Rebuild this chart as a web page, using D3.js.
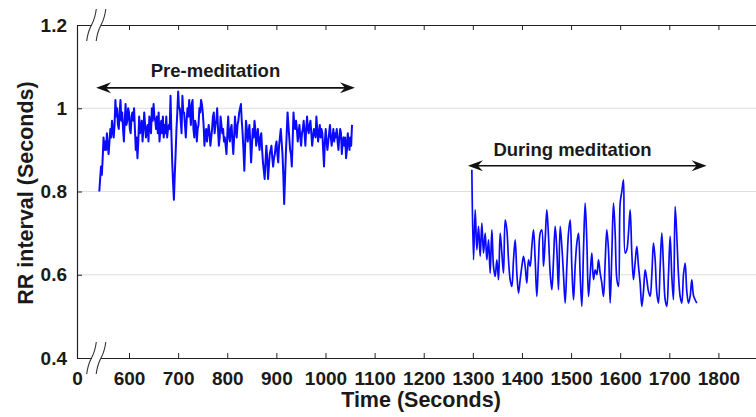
<!DOCTYPE html>
<html>
<head>
<meta charset="utf-8">
<script src="https://cdn.jsdelivr.net/npm/d3@7"></script>
<style>
  html, body { margin: 0; padding: 0; background: #fff; }
  svg { display: block; }
  text { font-family: "Liberation Sans", Arial, Helvetica, sans-serif; font-weight: bold; fill: #1a1a1a; }
</style>
</head>
<body>
<svg id="chart" width="756" height="417"></svg>
<script>
// ---------------- DATA ----------------
const xTickValues = [600, 700, 800, 900, 1000, 1100, 1200, 1300, 1400, 1500, 1600, 1700, 1800];
const xBreakLabel = "0";
const yTickValues = [0.4, 0.6, 0.8, 1, 1.2];
const yTickLabels = ["0.4", "0.6", "0.8", "1", "1.2"];
const xTitle = "Time (Seconds)";
const yTitle = "RR interval (Seconds)";
const preLabel = "Pre-meditation";
const duringLabel = "During meditation";

// Pre-meditation segment: start / end time (s) and RR values (s)
const preStart = 539.5, preEnd = 1054;
const preValues = [
  0.80, 0.83, 0.86, 0.84, 0.88, 0.93, 0.90, 0.92, 0.90, 0.94, 0.91, 0.89, 0.92, 0.95, 0.93, 0.97, 0.95, 0.93, 0.96, 1.02,
  0.98, 1.00, 0.96, 0.95, 0.99, 1.02, 0.97, 0.99, 0.95, 0.92, 0.97, 1.01, 0.96, 0.97, 1.00, 0.99, 0.95, 0.94, 0.98, 0.99,
  0.97, 1.00, 0.95, 0.90, 0.93, 0.88, 0.92, 0.98, 0.94, 0.95, 0.97, 0.92, 0.95, 0.99, 0.96, 0.93, 0.95, 0.96, 0.92, 0.98,
  0.96, 0.94, 1.00, 0.97, 1.01, 0.98, 0.97, 0.95, 0.98, 0.94, 0.99, 0.92, 0.95, 0.97, 0.94, 0.98, 0.93, 0.96, 0.94, 0.98,
  0.93, 0.95, 0.96, 0.95, 1.03, 0.94, 0.87, 0.82, 0.78, 0.84, 0.89, 0.95, 0.99, 1.04, 1.00, 1.00, 0.97, 0.94, 1.03, 0.99,
  0.99, 0.96, 0.93, 0.97, 1.00, 0.98, 1.02, 0.99, 0.96, 1.01, 1.02, 0.95, 0.93, 0.97, 0.96, 0.92, 0.95, 0.96, 1.00, 0.99,
  1.02, 1.01, 0.99, 0.96, 0.91, 0.94, 0.95, 0.92, 0.94, 0.96, 0.94, 0.91, 0.93, 0.95, 0.98, 0.99, 0.94, 0.96, 0.97, 1.00,
  0.95, 0.91, 0.93, 0.98, 0.96, 0.94, 0.95, 0.92,
  0.93, 0.91, 0.89, 0.94, 0.98, 0.93, 0.92, 0.95, 0.96, 0.92, 0.89, 0.93, 0.98, 0.95, 0.93, 0.96, 0.97, 0.99, 1.00, 1.01,
  0.97, 0.94, 0.90, 0.85, 0.91, 0.97, 0.95, 0.92, 0.94, 0.96, 0.92, 0.87, 0.91, 0.95, 0.93, 0.97, 0.95, 0.91, 0.93, 0.95,
  0.92, 0.90, 0.93, 0.94, 0.90, 0.87, 0.85, 0.83, 0.87, 0.91, 0.88, 0.83, 0.86, 0.89, 0.90, 0.91, 0.88, 0.86, 0.88, 0.89,
  0.91, 0.92, 0.89, 0.87, 0.91, 0.93, 0.95, 0.92, 0.89, 0.84, 0.77, 0.83, 0.89, 0.94, 0.99, 0.96, 0.93, 0.90, 0.89, 0.86,
  0.92, 0.99, 0.96, 0.95, 0.97, 0.95, 0.92, 0.94, 0.96, 0.93, 0.91, 0.94, 0.95, 0.97, 0.94, 0.91, 0.95, 0.98, 0.95, 0.94,
  0.96, 0.97, 0.94, 0.91, 0.93, 0.95, 0.94, 0.93, 0.98, 0.95, 0.92, 0.94, 0.96, 0.93, 0.95, 0.94, 0.90, 0.86, 0.92, 0.95,
  0.92, 0.90, 0.92, 0.94, 0.96, 0.93, 0.91, 0.93, 0.95, 0.92, 0.94, 0.93, 0.95, 0.92, 0.90, 0.93, 0.95, 0.94, 0.89, 0.92,
  0.93, 0.91, 0.93, 0.88, 0.90, 0.94, 0.92, 0.90, 0.93, 0.91, 0.96
];

// During-meditation segment
const duringStart = 1298, duringEnd = 1756;
const duringValues = [
  0.852, 0.636, 0.756, 0.66, 0.716, 0.644, 0.724, 0.652, 0.70, 0.636,
  0.684, 0.604, 0.708, 0.62, 0.596, 0.636, 0.588, 0.70, 0.652, 0.604,
  0.732, 0.708, 0.636, 0.588, 0.572, 0.636, 0.684, 0.604, 0.556, 0.588,
  0.62, 0.644, 0.62, 0.58, 0.636, 0.62, 0.668, 0.708, 0.636, 0.548,
  0.636, 0.70, 0.708, 0.62, 0.684, 0.756, 0.692, 0.604, 0.564, 0.636,
  0.716, 0.66, 0.564, 0.716, 0.668, 0.60, 0.532, 0.62, 0.70, 0.732,
  0.62, 0.54, 0.62, 0.676, 0.70, 0.60, 0.524, 0.66, 0.772, 0.68,
  0.548, 0.60, 0.652, 0.588, 0.612, 0.60, 0.636, 0.604, 0.58, 0.548,
  0.63, 0.708, 0.66, 0.532, 0.65, 0.772, 0.70, 0.59, 0.572, 0.772,
  0.80, 0.828, 0.652, 0.66, 0.70, 0.756, 0.652, 0.588, 0.63, 0.668,
  0.62, 0.58, 0.524, 0.56, 0.612, 0.588, 0.56, 0.548, 0.60, 0.676,
  0.636, 0.556, 0.532, 0.62, 0.70, 0.62, 0.54, 0.524, 0.60, 0.692,
  0.596, 0.54, 0.764, 0.692, 0.60, 0.548, 0.532, 0.60, 0.628, 0.56,
  0.532, 0.548, 0.588, 0.55, 0.54, 0.532
];

// Arrow annotation extents (time units) and heights (RR units)
const preArrow = { t0: 533, t1: 1060, v: 1.049 };
const duringArrow = { t0: 1290, t1: 1776, v: 0.862 };
const preText = { t: 776, v: 1.075 };
const duringText = { t: 1503, v: 0.885 };

// ---------------- LAYOUT ----------------
const svg = d3.select("#chart");
const plotLeft = 77, plotTop = 25, plotBottom = 358, plotRight = 770;
const xMin = 494.1, xMax = 494.1 + (plotRight - plotLeft) / 0.49117;

const x = d3.scaleLinear().domain([xMin, xMax]).range([plotLeft, plotRight]);
const y = d3.scaleLinear().domain([0.4, 1.2]).range([plotBottom, plotTop]);

// grid
svg.append("g").selectAll("line")
  .data(yTickValues.filter(v => v > 0.4 && v < 1.2))
  .join("line")
  .attr("x1", plotLeft).attr("x2", plotRight)
  .attr("y1", d => y(d)).attr("y2", d => y(d))
  .attr("stroke", "#dedede").attr("stroke-width", 1);

// series
const toPoints = (vals, t0, t1) => vals.map((v, i) => [t0 + i * (t1 - t0) / (vals.length - 1), v]);
const linePre = d3.line().x(d => x(d[0])).y(d => y(d[1]));
const lineDuring = d3.line().x(d => x(d[0])).y(d => y(d[1])).curve(d3.curveCatmullRom.alpha(0.5));

svg.append("path").datum(toPoints(preValues, preStart, preEnd))
  .attr("d", linePre).attr("fill", "none").attr("stroke", "#0a0aff")
  .attr("stroke-width", 2).attr("stroke-linejoin", "round");
svg.append("path").datum(toPoints(duringValues, duringStart, duringEnd))
  .attr("d", lineDuring).attr("fill", "none").attr("stroke", "#0a0aff")
  .attr("stroke-width", 1.7).attr("stroke-linejoin", "round");

// axes
const xLabels = [xMin, ...xTickValues];
const axB = svg.append("g").attr("transform", `translate(0,${plotBottom})`)
  .call(d3.axisBottom(x).tickValues(xLabels)
    .tickFormat((d, i) => i === 0 ? xBreakLabel : String(d))
    .tickSizeInner(-5).tickSizeOuter(0).tickPadding(13));
const axT = svg.append("g").attr("transform", `translate(0,${plotTop})`)
  .call(d3.axisTop(x).tickValues(xTickValues).tickFormat("")
    .tickSizeInner(-5).tickSizeOuter(0));
const axL = svg.append("g").attr("transform", `translate(${plotLeft},0)`)
  .call(d3.axisLeft(y).tickValues(yTickValues)
    .tickFormat((d, i) => yTickLabels[i])
    .tickSizeInner(-5).tickSizeOuter(0).tickPadding(10));

[axB, axT, axL].forEach(g => {
  g.select(".domain").attr("stroke", "#222").attr("stroke-width", 1.2);
  g.selectAll(".tick line").attr("stroke", "#222").attr("stroke-width", 1);
  g.selectAll("text").attr("font-size", 19).attr("fill", "#1a1a1a")
    .style("font-family", '"Liberation Sans", Arial, sans-serif').style("font-weight", "bold");
});
axB.selectAll(".tick").filter((d, i) => i === 0).select("line").remove();
axB.selectAll("text").attr("dy", "0.71em").attr("y", 14);
axL.selectAll("text").attr("x", -10);

// axis breaks
function axisBreak(cy) {
  const g = svg.append("g");
  g.append("rect").attr("x", 91.5).attr("y", cy - 2).attr("width", 9.5).attr("height", 4).attr("fill", "#fff");
  [91.5, 101].forEach(cx => {
    g.append("path")
      .attr("d", `M${cx - 4.8},${cy + 16} C${cx - 3.5},${cy + 6} ${cx - 1.5},${cy + 3} ${cx},${cy} C${cx + 1.5},${cy - 3} ${cx + 3.5},${cy - 6} ${cx + 4.8},${cy - 16}`)
      .attr("fill", "none").attr("stroke", "#333").attr("stroke-width", 1.1);
  });
}
axisBreak(plotTop);
axisBreak(plotBottom);

// titles
svg.append("text").attr("x", 421).attr("y", 407).attr("text-anchor", "middle")
  .attr("font-size", 21.5).text(xTitle);
svg.append("text").attr("transform", "translate(33,193) rotate(-90)").attr("text-anchor", "middle")
  .attr("font-size", 21.5).text(yTitle);

// annotations
function arrowHead(xTip, yy, dir) {
  const L = 15, W = 5.5, N = 10;
  return `M${xTip},${yy} L${xTip + dir * L},${yy - W} L${xTip + dir * N},${yy} L${xTip + dir * L},${yy + W} Z`;
}
function doubleArrow(a) {
  const x0 = x(a.t0), x1 = x(a.t1), yy = y(a.v);
  svg.append("line").attr("x1", x0 + 8).attr("x2", x1 - 8).attr("y1", yy).attr("y2", yy)
    .attr("stroke", "#111").attr("stroke-width", 1.6);
  svg.append("path").attr("d", arrowHead(x0, yy, 1)).attr("fill", "#111");
  svg.append("path").attr("d", arrowHead(x1, yy, -1)).attr("fill", "#111");
}
doubleArrow(preArrow);
doubleArrow(duringArrow);

svg.append("text").attr("x", x(preText.t)).attr("y", y(preText.v)).attr("text-anchor", "middle")
  .attr("font-size", 18.5).text(preLabel);
svg.append("text").attr("x", x(duringText.t)).attr("y", y(duringText.v)).attr("text-anchor", "middle")
  .attr("font-size", 18.5).text(duringLabel);
</script>
</body>
</html>
